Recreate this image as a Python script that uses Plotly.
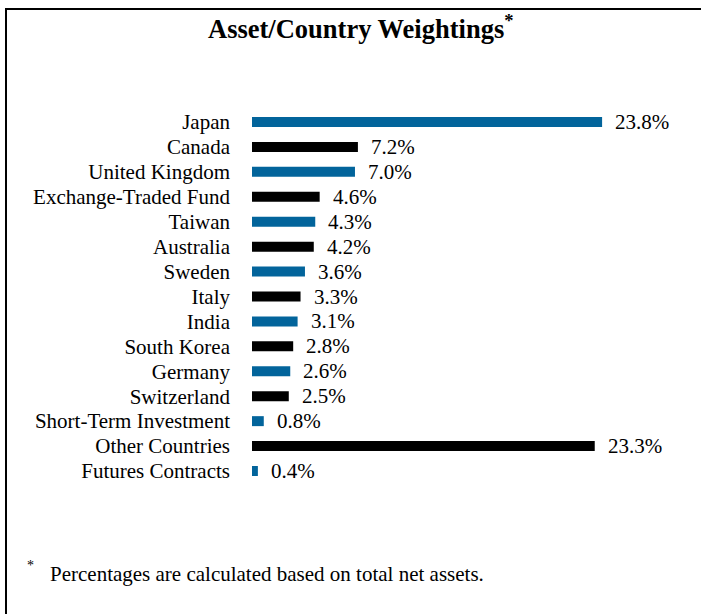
import plotly.graph_objects as go

categories = ["Japan", "Canada", "United Kingdom", "Exchange-Traded Fund", "Taiwan",
              "Australia", "Sweden", "Italy", "India", "South Korea", "Germany",
              "Switzerland", "Short-Term Investment", "Other Countries", "Futures Contracts"]
values = [23.8, 7.2, 7.0, 4.6, 4.3, 4.2, 3.6, 3.3, 3.1, 2.8, 2.6, 2.5, 0.8, 23.3, 0.4]
value_labels = ["23.8%", "7.2%", "7.0%", "4.6%", "4.3%", "4.2%", "3.6%", "3.3%", "3.1%",
                "2.8%", "2.6%", "2.5%", "0.8%", "23.3%", "0.4%"]

BLUE = "#02649B"
BLACK = "#000000"
colors = [BLUE if i % 2 == 0 else BLACK for i in range(len(categories))]

W, H = 701, 614
L, R, T, B = 252, 8, 108, 129
PW, PH = W - L - R, H - T - B
FONT = "'Liberation Serif', 'Times New Roman', Times, serif"


def px(x):
    return (x - L) / PW


def py(y):
    return (H - B - y) / PH


fig = go.Figure(go.Bar(
    y=categories, x=values, orientation="h",
    marker=dict(color=colors, line=dict(width=0)),
    width=0.4, hoverinfo="skip",
))

annotations = []
for c, v, t in zip(categories, values, value_labels):
    annotations.append(dict(x=v, y=c, xref="x", yref="y", text=t, showarrow=False,
                            xanchor="left", yanchor="middle", xshift=11,
                            font=dict(family=FONT, size=21, color="black")))

annotations.append(dict(x=px(360), y=py(27), xref="paper", yref="paper",
                        text="<b>Asset/Country Weightings<sup>*</sup></b>",
                        showarrow=False, xanchor="center", yanchor="middle",
                        font=dict(family=FONT, size=26.5, color="black")))
annotations.append(dict(x=px(25), y=py(565), xref="paper", yref="paper", text="*",
                        showarrow=False, xanchor="left", yanchor="middle",
                        font=dict(family=FONT, size=14, color="black")))
annotations.append(dict(x=px(48), y=py(574), xref="paper", yref="paper",
                        text="Percentages are calculated based on total net assets.",
                        showarrow=False, xanchor="left", yanchor="middle",
                        font=dict(family=FONT, size=21, color="black")))

shapes = [
    dict(type="line", xref="paper", yref="paper", x0=px(5), x1=px(702), y0=py(9), y1=py(9),
         line=dict(color="black", width=2)),
    dict(type="line", xref="paper", yref="paper", x0=px(6), x1=px(6), y0=py(8), y1=py(615),
         line=dict(color="black", width=2)),
]

fig.update_layout(
    width=W, height=H,
    margin=dict(l=L, r=R, t=T, b=B),
    paper_bgcolor="white", plot_bgcolor="white",
    showlegend=False,
    font=dict(family=FONT),
    xaxis=dict(range=[0, PW / 14.71], visible=False, fixedrange=True),
    yaxis=dict(autorange="reversed", showgrid=False, zeroline=False, showline=False,
               ticks="", ticklabelstandoff=21, tickmode="array", tickvals=categories,
               ticktext=categories, fixedrange=True,
               tickfont=dict(family=FONT, size=21, color="black")),
    annotations=annotations, shapes=shapes,
    bargap=0.6,
)

fig.write_html("out.html", config={"displayModeBar": False},
               post_script="document.body.style.margin='0';")
